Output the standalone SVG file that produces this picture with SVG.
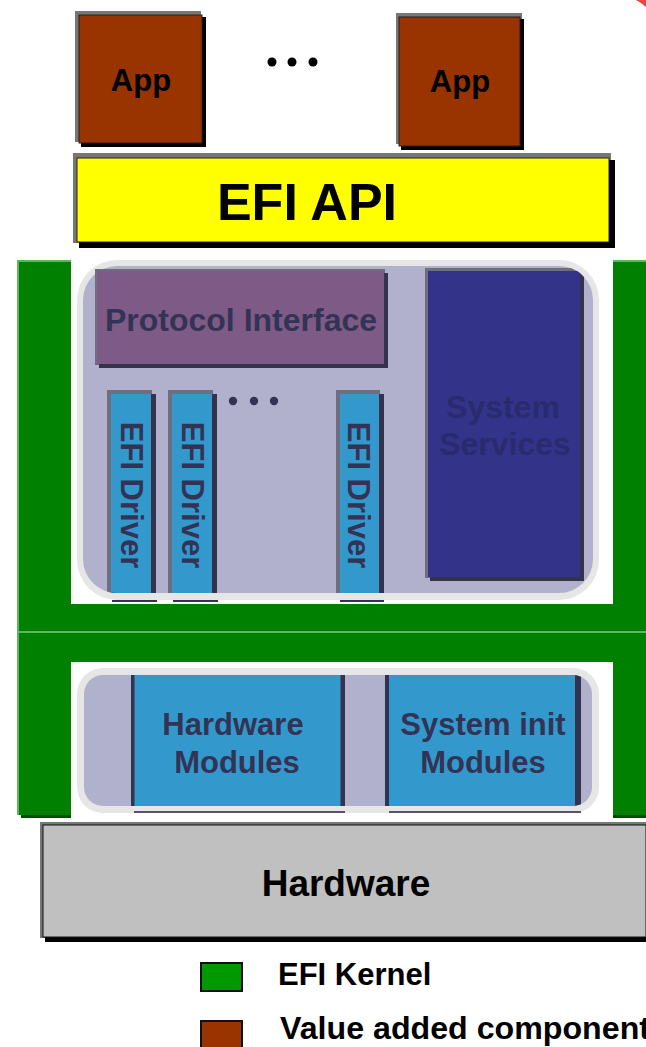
<svg xmlns="http://www.w3.org/2000/svg" width="646" height="1047" viewBox="0 0 646 1047">
<style>
.t{font-family:"Liberation Sans",Arial,sans-serif;font-weight:bold;text-anchor:middle}
.dk{fill:#333355}
.hl{fill:#6e6e7e}
.sh{fill:#33334d}
.blue{fill:#3399cc}
.brd{fill:#e6e6e6}
.lav{fill:#b1b1cd}
</style>
<defs>
<clipPath id="upClip"><rect x="83" y="266" width="510" height="327" rx="34"/></clipPath>
<clipPath id="loClip"><rect x="84" y="675" width="508" height="131" rx="19"/></clipPath>
</defs>
<rect width="646" height="1047" fill="#ffffff"/>
<polygon points="636,0 646,0 646,7 641,3" fill="#e8453c"/>

<g id="app1">
<rect x="75" y="11" width="126" height="131" fill="#777777"/>
<rect x="81" y="17" width="125" height="130" fill="#000000"/>
<rect x="79" y="15" width="123" height="128" fill="#993300" stroke="#222" stroke-width="1"/>
<text class="t" x="141" y="91" font-size="31" fill="#000">App</text>
</g>
<g id="dots-apps" fill="#000">
<circle cx="272" cy="62" r="4.5"/><circle cx="292" cy="62" r="4.5"/><circle cx="313" cy="62" r="4.5"/>
</g>
<g id="app2">
<rect x="396" y="13" width="126" height="131" fill="#777777"/>
<rect x="401" y="19" width="123" height="131" fill="#000000"/>
<rect x="399" y="17" width="121" height="129" fill="#993300" stroke="#222" stroke-width="1"/>
<text class="t" x="460" y="92" font-size="31" fill="#000">App</text>
</g>

<g id="efi-api">
<rect x="73" y="153" width="538" height="90" fill="#777777"/>
<rect x="79" y="160" width="536" height="88" fill="#000000"/>
<rect x="77" y="158" width="532" height="84" fill="#ffff00" stroke="#222" stroke-width="1"/>
<text class="t" x="307" y="220" font-size="52" fill="#000">EFI API</text>
</g>

<g id="efi-kernel">
<rect x="17" y="260" width="629" height="555" fill="#008000"/>
<rect x="17" y="260" width="2" height="555" fill="#5fb55f"/>
<rect x="17" y="260" width="54" height="2" fill="#5fb55f"/>
<rect x="613" y="260" width="33" height="2" fill="#5fb55f"/>
<rect x="17" y="631" width="629" height="2" fill="#5fb55f"/>
<rect x="21" y="815" width="50" height="3" fill="#004d00"/>
<rect x="613" y="815" width="33" height="3" fill="#004d00"/>
<rect x="71" y="250" width="542" height="354" fill="#ffffff"/>
<rect x="71" y="662" width="542" height="156" fill="#ffffff"/>
</g>

<g id="upper-container">
<rect x="77" y="260" width="522" height="340" rx="40" class="brd"/>
<rect x="83" y="266" width="510" height="327" rx="34" class="lav"/>
</g>

<g id="protocol-interface">
<rect x="95" y="269" width="290" height="96" class="hl"/>
<rect x="99" y="273" width="289" height="95" class="sh"/>
<rect x="97" y="271" width="287" height="93" fill="#7e5a86"/>
<text class="t dk" x="241" y="331" font-size="32">Protocol Interface</text>
</g>

<g id="system-services" clip-path="url(#upClip)">
<rect x="425" y="268" width="157" height="310" class="hl"/>
<rect x="430" y="273" width="154" height="308" class="sh"/>
<rect x="428" y="271" width="152" height="306" fill="#333389"/>
<text class="t" x="503" y="418" font-size="32" fill="#2a2a6e">System</text>
<text class="t" x="505" y="455" font-size="32" fill="#2a2a6e">Services</text>
</g>

<g id="efi-driver-1">
<g clip-path="url(#upClip)">
<rect x="107" y="390" width="45" height="215" class="hl"/>
<rect x="112" y="394" width="44" height="215" class="sh"/>
<rect x="111" y="394" width="40" height="215" class="blue"/>
</g>
<rect x="112" y="600" width="45" height="2" class="sh"/>
<text class="t dk" x="0" y="0" font-size="31" transform="translate(121,495) rotate(90)">EFI Driver</text>
</g>
<g id="efi-driver-2">
<g clip-path="url(#upClip)">
<rect x="168" y="390" width="45" height="215" class="hl"/>
<rect x="173" y="394" width="44" height="215" class="sh"/>
<rect x="172" y="394" width="40" height="215" class="blue"/>
</g>
<rect x="173" y="600" width="45" height="2" class="sh"/>
<text class="t dk" x="0" y="0" font-size="31" transform="translate(182,495) rotate(90)">EFI Driver</text>
</g>
<g id="dots-drivers" class="dk">
<circle cx="233" cy="401" r="4.2"/><circle cx="254" cy="401" r="4.2"/><circle cx="274" cy="401" r="4.2"/>
</g>
<g id="efi-driver-3">
<g clip-path="url(#upClip)">
<rect x="336" y="390" width="44" height="215" class="hl"/>
<rect x="341" y="394" width="43" height="215" class="sh"/>
<rect x="340" y="394" width="39" height="215" class="blue"/>
</g>
<rect x="340" y="600" width="44" height="2" class="sh"/>
<text class="t dk" x="0" y="0" font-size="31" transform="translate(348,495) rotate(90)">EFI Driver</text>
</g>

<g id="lower-container">
<rect x="77" y="668" width="522" height="145" rx="26" class="brd"/>
<rect x="84" y="675" width="508" height="131" rx="19" class="lav"/>
</g>

<g id="hardware-modules">
<g clip-path="url(#loClip)">
<rect x="131" y="675" width="214" height="131" class="sh"/>
<rect x="134.5" y="675" width="206" height="131" class="blue"/>
</g>
<rect x="134" y="811" width="211" height="2" fill="#555566"/>
<text class="t dk" x="233" y="735" font-size="31">Hardware</text>
<text class="t dk" x="237" y="773" font-size="31">Modules</text>
</g>

<g id="system-init-modules">
<g clip-path="url(#loClip)">
<rect x="385" y="675" width="196" height="131" class="sh"/>
<rect x="389" y="675" width="186" height="131" class="blue"/>
</g>
<rect x="389" y="811" width="192" height="2" fill="#555566"/>
<text class="t dk" x="483" y="735" font-size="31">System init</text>
<text class="t dk" x="483" y="773" font-size="31">Modules</text>
</g>

<g id="hardware">
<rect x="40" y="822" width="606" height="116" fill="#777777"/>
<rect x="45" y="828" width="601" height="114" fill="#000000"/>
<rect x="43" y="825" width="603" height="112" fill="#c0c0c0" stroke="#111" stroke-width="1"/>
<text class="t" x="346" y="896" font-size="37" fill="#000">Hardware</text>
</g>

<g id="connectors"/>

<g id="legend">
<rect x="201" y="963" width="41" height="28" fill="#009900" stroke="#111" stroke-width="2"/>
<text class="t" x="278" y="985" font-size="31" fill="#000" style="text-anchor:start">EFI Kernel</text>
<rect x="201" y="1021" width="41" height="30" fill="#993300" stroke="#111" stroke-width="2"/>
<text class="t" x="280" y="1039" font-size="32" fill="#000" style="text-anchor:start" textLength="370" lengthAdjust="spacingAndGlyphs">Value added component</text>
</g>
</svg>
